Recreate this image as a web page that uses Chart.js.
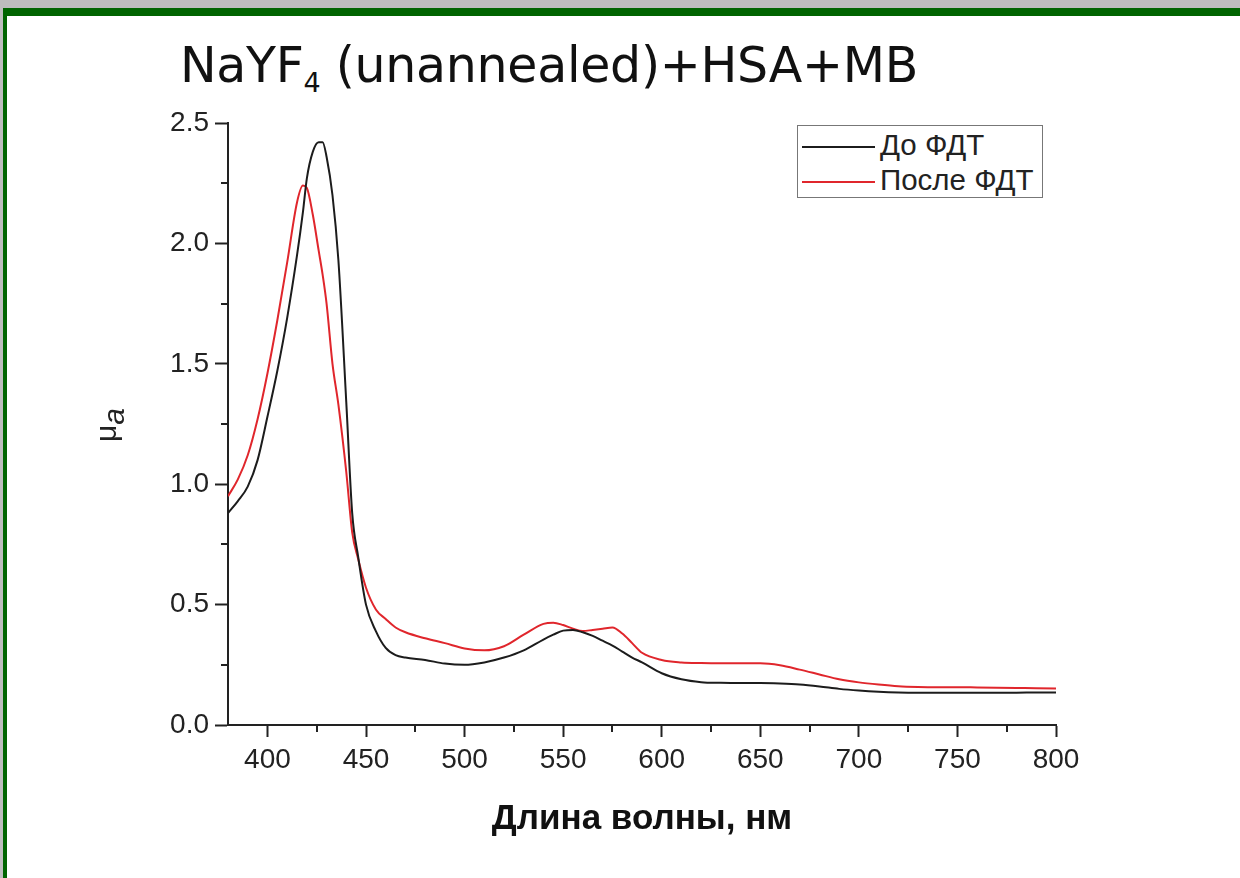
<!DOCTYPE html>
<html>
<head>
<meta charset="utf-8">
<script src="https://cdn.jsdelivr.net/npm/chart.js@4.4.0/dist/chart.umd.min.js"></script>
<style>
  html, body { margin: 0; padding: 0; }
  body { width: 1240px; height: 878px; background: #bdbdbd; position: relative; overflow: hidden; }
  .frame {
    position: absolute; left: 3px; top: 8px; width: 1250px; height: 863px;
    background: #fff; border-top: 8px solid #006400; border-left: 4px solid #006400; border-bottom: 4px solid #1b7a1b;
  }
  .title {
    position: absolute; left: 180px; top: 37px; font-family: "DejaVu Sans", Verdana, sans-serif;
    font-size: 49px; color: #111; white-space: nowrap; letter-spacing: -0.3px;
  }
  .title sub { font-size: 27px; vertical-align: -10px; }
  canvas { position: absolute; left: 0; top: 0; }
  .legend {
    position: absolute; left: 797px; top: 125px; width: 246px; height: 73px; box-sizing: border-box;
    border: 1.5px solid #777; background: #fff; font-family: "Liberation Sans", Arial, sans-serif; font-size: 29.5px; color: #222;
  }
  .legend div { position: relative; height: 35px; line-height: 38px; padding-left: 82px; white-space: nowrap; }
  .legend span { position: absolute; left: 4px; top: 20px; width: 73px; height: 2px; }
</style>
</head>
<body>
<div class="frame"></div>
<div class="title">NaYF<sub>4</sub> (unannealed)+HSA+MB</div>
<canvas id="chart" width="1240" height="878"></canvas>
<div class="legend" id="legend"></div>
<script>
// wavelength, nm
const WAVELENGTH = [380,385,390,395,400,405,410,415,418,420,423,426,428,430,433,436,440,443,446,450,455,460,465,470,480,490,500,510,520,530,540,545,550,555,560,565,570,575,580,585,590,600,610,620,630,640,650,660,670,680,690,700,710,720,730,740,750,760,770,780,790,800];
// before PDT
const BEFORE = [0.88,0.93,0.99,1.10,1.28,1.47,1.69,1.95,2.13,2.27,2.38,2.42,2.42,2.36,2.20,1.93,1.34,0.88,0.70,0.50,0.39,0.32,0.29,0.28,0.27,0.255,0.25,0.26,0.28,0.31,0.355,0.375,0.392,0.395,0.385,0.37,0.35,0.33,0.305,0.28,0.26,0.215,0.19,0.178,0.175,0.174,0.174,0.172,0.168,0.16,0.15,0.143,0.138,0.135,0.134,0.134,0.134,0.134,0.134,0.134,0.135,0.135];
// after PDT
const AFTER = [0.95,1.02,1.12,1.27,1.46,1.68,1.92,2.17,2.24,2.23,2.12,1.97,1.87,1.75,1.50,1.33,1.05,0.80,0.69,0.57,0.48,0.44,0.405,0.385,0.36,0.34,0.318,0.31,0.327,0.375,0.42,0.425,0.415,0.40,0.39,0.395,0.40,0.405,0.38,0.34,0.30,0.27,0.26,0.257,0.256,0.256,0.256,0.248,0.23,0.21,0.19,0.177,0.168,0.161,0.158,0.157,0.157,0.156,0.155,0.154,0.153,0.152];

const X_TICKS = [400,450,500,550,600,650,700,750,800];
const X_MINOR = [425,475,525,575,625,675,725,775];
const Y_TICKS = [0,0.5,1.0,1.5,2.0,2.5];
const Y_MINOR = [0.25,0.75,1.25,1.75,2.25];
const SERIES_NAMES = ["До ФДТ", "После ФДТ"];
const COLORS = ["#1c1c1c", "#e0262c"];

const pts = arr => WAVELENGTH.map((w, i) => ({ x: w, y: arr[i] }));

const extras = {
  id: "extras",
  afterDraw(chart) {
    const { ctx, scales: { x, y }, chartArea } = chart;
    ctx.save();
    ctx.strokeStyle = "#222";
    ctx.lineWidth = 2;
    ctx.beginPath();
    for (const v of X_MINOR) {
      const px = Math.round(x.getPixelForValue(v));
      ctx.moveTo(px, chartArea.bottom); ctx.lineTo(px, chartArea.bottom + 7);
    }
    for (const v of Y_MINOR) {
      const py = Math.round(y.getPixelForValue(v));
      ctx.moveTo(chartArea.left, py); ctx.lineTo(chartArea.left - 7, py);
    }
    ctx.stroke();

    // axis titles
    ctx.fillStyle = "#111";
    ctx.font = "bold 35px 'Liberation Sans', Arial, sans-serif";
    ctx.textAlign = "center";
    ctx.textBaseline = "alphabetic";
    ctx.fillText("Длина волны, нм", (chartArea.left + chartArea.right) / 2, 829);

    ctx.translate(120, 425);
    ctx.rotate(-Math.PI / 2);
    ctx.fillStyle = "#222";
    ctx.textAlign = "left";
    ctx.font = "30px 'Liberation Sans', Arial, sans-serif";
    const mw = ctx.measureText("μ").width;
    ctx.font = "italic 30px 'Liberation Sans', Arial, sans-serif";
    const aw = ctx.measureText("a").width;
    const start = -(mw + aw) / 2;
    ctx.font = "30px 'Liberation Sans', Arial, sans-serif";
    ctx.fillText("μ", start, -4);
    ctx.font = "italic 30px 'Liberation Sans', Arial, sans-serif";
    ctx.fillText("a", start + mw, 4);
    ctx.restore();
  }
};

const tickFont = { family: "'Liberation Sans', Arial, sans-serif", size: 28 };

new Chart(document.getElementById("chart"), {
  type: "line",
  data: {
    datasets: [BEFORE, AFTER].map((arr, i) => ({
      label: SERIES_NAMES[i],
      data: pts(arr),
      borderColor: COLORS[i],
      borderWidth: 2,
      pointRadius: 0,
      cubicInterpolationMode: "monotone",
      fill: false,
    })),
  },
  options: {
    responsive: false,
    animation: false,
    layout: { padding: { left: 0, top: 123, right: 184, bottom: 0 } },
    plugins: { legend: { display: false }, tooltip: { enabled: false } },
    scales: {
      x: {
        type: "linear", min: 380, max: 800,
        afterBuildTicks: s => { s.ticks = X_TICKS.map(v => ({ value: v })); },
        afterFit: s => { s.height = 153; },
        grid: { drawOnChartArea: false, tickLength: 12, tickColor: "#222", tickWidth: 2 },
        border: { color: "#222", width: 2 },
        ticks: { font: tickFont, color: "#222", padding: 6, maxRotation: 0 },
      },
      y: {
        min: 0, max: 2.5,
        afterBuildTicks: s => { s.ticks = Y_TICKS.map(v => ({ value: v })); },
        afterFit: s => { s.width = 228; },
        grid: { drawOnChartArea: false, tickLength: 13, tickColor: "#222", tickWidth: 2 },
        border: { color: "#222", width: 2 },
        ticks: { font: tickFont, color: "#222", padding: 6, callback: v => v.toFixed(1) },
      },
    },
  },
  plugins: [extras],
});

document.getElementById("legend").innerHTML = SERIES_NAMES.map((n, i) =>
  `<div><span style="background:${COLORS[i]}"></span>${n}</div>`).join("");
</script>
</body>
</html>
